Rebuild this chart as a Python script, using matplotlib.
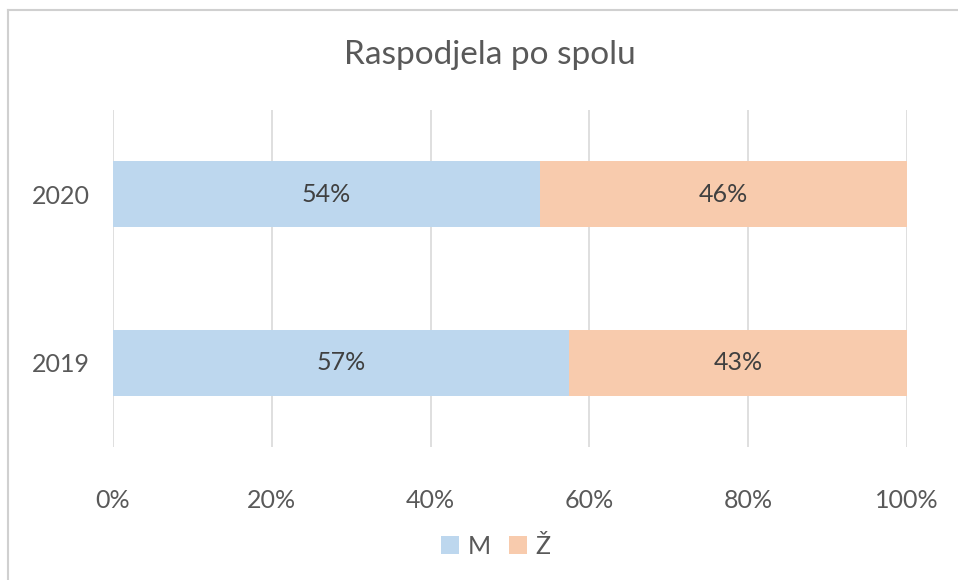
import matplotlib
matplotlib.use("Agg")
import matplotlib.pyplot as plt
from matplotlib.lines import Line2D

plt.rcParams['font.family'] = ['Lato', 'DejaVu Sans']

categories = ['2019', '2020']
m_values = [57.4, 53.8]
z_values = [42.6, 46.2]
m_labels = ['57%', '54%']
z_labels = ['43%', '46%']
series_names = ['M', 'Ž']
xticks = [0, 20, 40, 60, 80, 100]
xtick_labels = ['0%', '20%', '40%', '60%', '80%', '100%']

c_m = '#BDD7EE'
c_z = '#F8CBAD'
txt = '#595959'

fig = plt.figure(figsize=(9.58, 5.8), dpi=100)
# chart frame: only top and left edges visible in the crop
fig.lines.append(Line2D([8/958, 8/958], [0, 1-10/580], transform=fig.transFigure,
                        color='#d0d0d0', linewidth=1.5))
fig.lines.append(Line2D([8/958, 1], [1-10/580, 1-10/580], transform=fig.transFigure,
                        color='#d0d0d0', linewidth=1.5))
ax = fig.add_axes([113/958, 1-447/580, 794/958, 337/580])

y = list(range(len(categories)))
b1 = ax.barh(y, m_values, height=0.39, color=c_m, label=series_names[0], zorder=3)
b2 = ax.barh(y, z_values, left=m_values, height=0.39, color=c_z, label=series_names[1], zorder=3)
ax.bar_label(b1, labels=m_labels, label_type='center', color='#404040', fontsize=18)
ax.bar_label(b2, labels=z_labels, label_type='center', color='#404040', fontsize=18)

ax.set_xlim(0, 100)
ax.set_ylim(-0.5, 1.5)
ax.set_xticks(xticks)
ax.set_xticklabels(xtick_labels)
ax.set_yticks(y)
ax.set_yticklabels(categories)
ax.tick_params(axis='both', length=0, labelsize=18, labelcolor=txt)
ax.tick_params(axis='x', pad=30)
ax.tick_params(axis='y', pad=17)
ax.grid(axis='x', color='#d9d9d9', linewidth=1.2, zorder=0)
for s in ax.spines.values():
    s.set_visible(False)

fig.text(490/958, 1-55/580, 'Raspodjela po spolu', ha='center', va='center', fontsize=24, color=txt)
fig.legend(handles=[b1, b2], labels=series_names, loc='center', bbox_to_anchor=(496/958, 1-546/580),
           ncol=2, frameon=False, fontsize=18, handlelength=0.7, handleheight=0.7,
           handletextpad=0.35, columnspacing=0.75, labelcolor=txt)

fig.savefig('out.png', dpi=100)
